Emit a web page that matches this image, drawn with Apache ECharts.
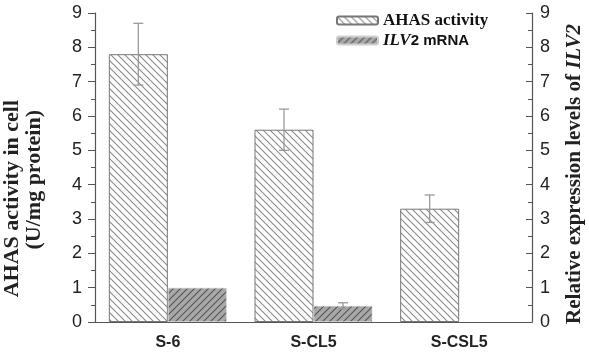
<!DOCTYPE html>
<html>
<head>
<meta charset="utf-8">
<script src="https://cdn.jsdelivr.net/npm/echarts@6/dist/echarts.min.js"></script>
<style>html,body{margin:0;padding:0;background:#fff}#c{width:589px;height:356px}</style>
</head>
<body>
<div id="c"></div>
<script>
var categories = ['S-6', 'S-CL5', 'S-CSL5'];
var ahasValues = [7.8, 5.6, 3.3];
var ahasErrors = [0.9, 0.6, 0.4];
var ilv2Values = [1.0, 0.47, null];
var ilv2Errors = [0, 0.09, 0];
var yTicks = [0, 1, 2, 3, 4, 5, 6, 7, 8, 9];

function makePattern(bg, fg, dir) {
  var s = 7;
  var cv = document.createElement('canvas');
  cv.width = s; cv.height = s;
  var ctx = cv.getContext('2d');
  ctx.fillStyle = bg; ctx.fillRect(0, 0, s, s);
  ctx.strokeStyle = fg; ctx.lineWidth = 1.1;
  ctx.beginPath();
  if (dir === 'back') {
    ctx.moveTo(-1, -1); ctx.lineTo(s + 1, s + 1);
    ctx.moveTo(-1, s - 1); ctx.lineTo(1, s + 1);
    ctx.moveTo(s - 1, -1); ctx.lineTo(s + 1, 1);
  } else {
    ctx.moveTo(-1, s + 1); ctx.lineTo(s + 1, -1);
    ctx.moveTo(-1, 1); ctx.lineTo(1, -1);
    ctx.moveTo(s - 1, s + 1); ctx.lineTo(s + 1, s - 1);
  }
  ctx.stroke();
  return { image: cv, repeat: 'repeat' };
}

var ahasPattern = makePattern('#ffffff', '#8a8a8a', 'back');
var ilv2Pattern = makePattern('#a8a8a8', '#555555', 'fwd');

var GAP = 0.19;
function errRender(valArr, errArr, side) {
  return function (params, api) {
    var i = api.value(0);
    var v = valArr[i], e = errArr[i];
    if (!e || v == null) return null;
    var band = api.size([1, 0])[0];
    var bw = band * (1 - GAP) / 2;
    var c = api.coord([i, v]);
    var x = c[0] + side * bw / 2;
    var top = api.coord([i, v + e])[1];
    var bot = api.coord([i, v - e])[1];
    var cap = 5;
    var st = { stroke: '#9a9a9a', lineWidth: 1.3 };
    return { type: 'group', children: [
      { type: 'line', shape: { x1: x, y1: top, x2: x, y2: bot }, style: st },
      { type: 'line', shape: { x1: x - cap, y1: top, x2: x + cap, y2: top }, style: st },
      { type: 'line', shape: { x1: x - cap, y1: bot, x2: x + cap, y2: bot }, style: st }
    ]};
  };
}

var serif = '"Liberation Serif", "DejaVu Serif", serif';
var sans = '"Liberation Sans", Arial, sans-serif';
var nameFont = 'bold 21px ' + serif;
var leftFont = 'bold 22px ' + serif;

var chart = echarts.init(document.getElementById('c'));
chart.setOption({
  animation: false,
  backgroundColor: '#fff',
  grid: { left: 95, right: 57, top: 13, bottom: 34, containLabel: false, outerBoundsMode: 'none' },
  graphic: [
    { type: 'text', x: 12, y: 100, rotation: Math.PI / 2,
      style: { text: 'AHAS activity in cell', font: leftFont, fill: '#222', align: 'right', verticalAlign: 'middle' } },
    { type: 'text', x: 34, y: 110, rotation: Math.PI / 2,
      style: { text: '(U/mg protein)', font: leftFont, fill: '#222', align: 'right', verticalAlign: 'middle' } },
    { type: 'text', x: 575, y: 174, rotation: Math.PI / 2,
      style: { text: '{s|Relative expression levels of }{i|ILV2}', align: 'center', verticalAlign: 'middle',
        rich: {
          s: { font: nameFont, fill: '#222' },
          i: { font: 'italic ' + nameFont, fill: '#222' }
        } } }
  ],
  legend: {
    orient: 'vertical', left: 336, top: 12, padding: 0, itemWidth: 41, itemHeight: 8, itemGap: 3,
    data: ['AHAS activity', 'ILV2 mRNA'],
    formatter: function (n) {
      return n === 'AHAS activity' ? '{s|AHAS activity}' : '{i|ILV}{a|2 mRNA}';
    },
    textStyle: {
      fontWeight: 'bold', fontSize: 17, fontFamily: serif, color: '#222',
      rich: {
        s: { fontFamily: serif, fontWeight: 'bold', fontSize: 17, color: '#111' },
        i: { fontFamily: serif, fontWeight: 'bold', fontStyle: 'italic', fontSize: 17, color: '#111' },
        a: { fontFamily: sans, fontWeight: 'bold', fontSize: 15, color: '#111' }
      }
    }
  },
  xAxis: [{
    type: 'category', data: categories,
    axisLine: { lineStyle: { color: '#555', width: 1.2 } },
    axisTick: { alignWithLabel: true, length: 5, lineStyle: { color: '#555' } },
    axisLabel: { fontFamily: sans, fontWeight: 'bold', fontSize: 16, color: '#222', margin: 13 }
  }, {
    type: 'category', data: categories, position: 'bottom',
    axisLine: { show: false },
    axisTick: { length: 3, lineStyle: { color: '#555' } },
    axisLabel: { show: false }
  }],
  yAxis: [{
    type: 'value', min: 0, max: 9, interval: 1,
    axisLine: { show: true, lineStyle: { color: '#555', width: 1.2 } },
    axisTick: { show: true, length: 7, lineStyle: { color: '#555' } },
    minorTick: { show: true, splitNumber: 2, length: 4, lineStyle: { color: '#555' } },
    splitLine: { show: false },
    axisLabel: { fontFamily: sans, fontSize: 18, color: '#222', margin: 13,
      formatter: function (v) { return yTicks.indexOf(v) >= 0 ? String(v) : ''; } }
  }, {
    type: 'value', min: 0, max: 9, interval: 1, position: 'right',
    axisLine: { show: true, lineStyle: { color: '#555', width: 1.2 } },
    axisTick: { show: true, inside: true, length: 6, lineStyle: { color: '#555' } },
    minorTick: { show: true, splitNumber: 2, length: 4, lineStyle: { color: '#555' } },
    splitLine: { show: false },
    axisLabel: { fontFamily: sans, fontSize: 18, color: '#222', margin: 8,
      formatter: function (v) { return yTicks.indexOf(v) >= 0 ? String(v) : ''; } }
  }],
  series: [{
    name: 'AHAS activity', type: 'bar', yAxisIndex: 0, data: ahasValues,
    barGap: '0%', barCategoryGap: (GAP * 100) + '%',
    itemStyle: { color: ahasPattern, borderColor: '#777', borderWidth: 1 }
  }, {
    name: 'ILV2 mRNA', type: 'bar', yAxisIndex: 1, data: ilv2Values,
    barGap: '0%', barCategoryGap: (GAP * 100) + '%',
    itemStyle: { color: ilv2Pattern, borderColor: '#cfcfcf', borderWidth: 1, borderType: 'dotted' }
  }, {
    type: 'custom', yAxisIndex: 0, data: categories.map(function (c, i) { return [i]; }),
    renderItem: errRender(ahasValues, ahasErrors, -1), z: 5, silent: true
  }, {
    type: 'custom', yAxisIndex: 1, data: categories.map(function (c, i) { return [i]; }),
    renderItem: errRender(ilv2Values, ilv2Errors, 1), z: 5, silent: true
  }]
});
</script>
</body>
</html>
